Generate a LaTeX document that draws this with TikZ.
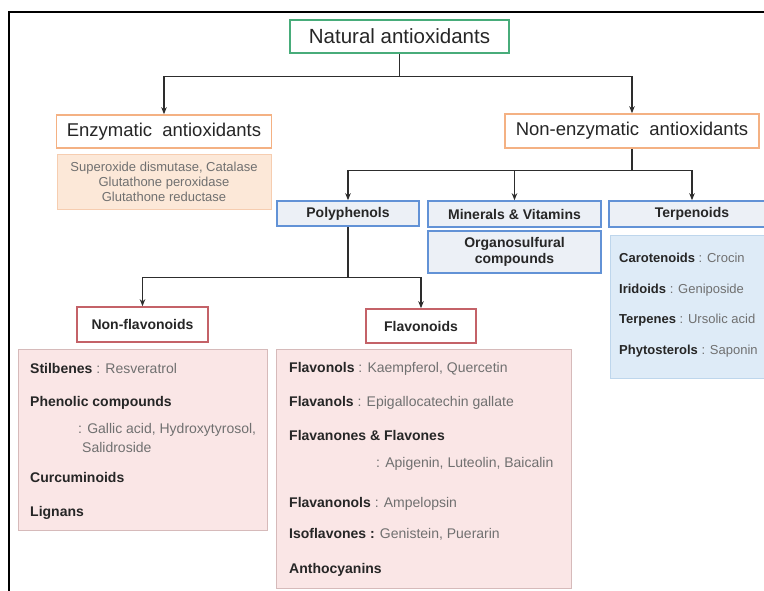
\documentclass[tikz,border=0pt]{standalone}
\usepackage{fontspec}
\setmainfont{Liberation Sans}
\usetikzlibrary{arrows.meta,calc}
\definecolor{natgreen}{RGB}{72,172,122}
\definecolor{orborder}{RGB}{244,177,131}
\definecolor{orfill}{RGB}{252,232,216}
\definecolor{orfillborder}{RGB}{246,205,176}
\definecolor{blborder}{RGB}{98,146,214}
\definecolor{blfill}{RGB}{236,240,246}
\definecolor{tpfill}{RGB}{222,235,247}
\definecolor{tpborder}{RGB}{190,214,236}
\definecolor{rdborder}{RGB}{196,98,104}
\definecolor{rdfill}{RGB}{250,230,230}
\definecolor{rdfillborder}{RGB}{214,186,186}
\definecolor{titlecol}{RGB}{38,38,38}
\definecolor{greytxt}{RGB}{112,112,112}
\definecolor{linecol}{RGB}{45,45,45}
\begin{document}
\begin{tikzpicture}[x=1pt,y=-1pt,
  box/.style={draw, line width=1.6pt, inner sep=0pt, text=titlecol, align=center},
  detail/.style={draw, line width=0.8pt, inner sep=0pt},
  arr/.style={-{Stealth[length=7pt,width=5.5pt]}, line width=1.3pt, draw=linecol},
  ln/.style={line width=1.3pt, draw=linecol},
  item/.style={anchor=base west, inner sep=0pt, text=titlecol, font=\fontsize{14}{16}\selectfont},
  titem/.style={anchor=base west, inner sep=0pt, text=titlecol, font=\fontsize{13}{15}\selectfont},
  bf14/.style={font=\fontsize{14}{16}\selectfont\bfseries}
]
\clip (0,0) rectangle (764,590);
\fill[white] (0,0) rectangle (764,590);
% frame
\draw[line width=2pt, black] (9,592) -- (9,12) -- (766,12);

% level 1
\node[box, draw=natgreen, minimum width=219pt, minimum height=33pt,
      font=\fontsize{20.5}{24}\selectfont] (nat) at (399.5,36.5) {Natural antioxidants};

% level 2
\node[box, draw=orborder, minimum width=215pt, minimum height=33pt,
      font=\fontsize{18.5}{22}\selectfont] (enz) at (164,131.5) {Enzymatic\ \ antioxidants};
\node[detail, draw=orfillborder, fill=orfill, minimum width=214pt, minimum height=55pt,
      text=greytxt, align=center, font=\fontsize{13}{15}\selectfont] (enzd) at (164,181.5)
      {Superoxide dismutase, Catalase\\Glutathone peroxidase\\Glutathone reductase};
\node[box, draw=orborder, minimum width=254pt, minimum height=34pt,
      font=\fontsize{18.5}{22}\selectfont] (nonenz) at (632,131) {Non-enzymatic\ \ antioxidants};

% level 3
\node[box, draw=blborder, fill=blfill, minimum width=142pt, minimum height=25pt, bf14] (poly) at (348,213.5) {Polyphenols};
\node[box, draw=blborder, fill=blfill, minimum width=173pt, minimum height=26pt, bf14] (minv) at (514.5,214) {Minerals \& Vitamins};
\node[box, draw=blborder, fill=blfill, minimum width=173pt, minimum height=42pt,
      font=\fontsize{14}{15.5}\selectfont\bfseries] (orgs) at (514.5,252) {Organosulfural\\compounds};
\node[box, draw=blborder, fill=blfill, minimum width=166pt, minimum height=26pt, bf14] (terp) at (692,214) {Terpenoids};
\node[detail, draw=tpborder, fill=tpfill, minimum width=165pt, minimum height=143pt] (terpd) at (692.5,306.5) {};

% level 4
\node[box, draw=rdborder, fill=white, minimum width=131pt, minimum height=35pt, bf14] (nonflav) at (142.5,324.5) {Non-flavonoids};
\node[box, draw=rdborder, fill=white, minimum width=110pt, minimum height=34pt, bf14] (flav) at (421,326) {Flavonoids};
\node[detail, draw=rdfillborder, fill=rdfill, minimum width=249pt, minimum height=181pt] (nonflavd) at (142.5,439.5) {};
\node[detail, draw=rdfillborder, fill=rdfill, minimum width=295pt, minimum height=239pt] (flavd) at (423.5,468.5) {};

% connectors
\coordinate (j1) at ($(nat.south)+(0,23)$);
\draw[ln] (nat.south) -- (j1);
\draw[arr] (j1) -| (enz.north);
\draw[arr] (j1) -| (nonenz.north);

\coordinate (j2) at ($(nonenz.south)+(0,22)$);
\draw[ln] (nonenz.south) -- (j2);
\draw[arr] (j2) -| (poly.north);
\draw[arr] (j2) -| (minv.north);
\draw[arr] (j2) -| (terp.north);

\coordinate (j3) at ($(poly.south)+(0,51)$);
\draw[ln] (poly.south) -- (j3);
\draw[arr] (j3) -| (nonflav.north);
\draw[arr] (j3) -| (flav.north);

% terpenoid items
\node[titem] (tp1) at (619,262) {\textbf{Carotenoids} {\color{greytxt}: Crocin}};
\node[titem] (tp2) at (619,293) {\textbf{Iridoids} {\color{greytxt}: Geniposide}};
\node[titem] (tp3) at (619,323) {\textbf{Terpenes} {\color{greytxt}: Ursolic acid}};
\node[titem] (tp4) at (619,354) {\textbf{Phytosterols} {\color{greytxt}: Saponin}};

% non-flavonoid items
\node[item] (nf1) at (30,373) {\textbf{Stilbenes} {\color{greytxt}: Resveratrol}};
\node[item] (nf2) at (30,406) {\textbf{Phenolic compounds}};
\node[item] (nf3) at (78,433) {\color{greytxt}: Gallic acid, Hydroxytyrosol,};
\node[item] (nf4) at (82,452) {\color{greytxt}Salidroside};
\node[item] (nf5) at (30,482) {\textbf{Curcuminoids}};
\node[item] (nf6) at (30,516) {\textbf{Lignans}};

% flavonoid items
\node[item] (fl1) at (289,372) {\textbf{Flavonols} {\color{greytxt}: Kaempferol, Quercetin}};
\node[item] (fl2) at (289,406) {\textbf{Flavanols} {\color{greytxt}: Epigallocatechin gallate}};
\node[item] (fl3) at (289,440) {\textbf{Flavanones \& Flavones}};
\node[item] (fl4) at (376,467) {\color{greytxt}: Apigenin, Luteolin, Baicalin};
\node[item] (fl5) at (289,507) {\textbf{Flavanonols} {\color{greytxt}: Ampelopsin}};
\node[item] (fl6) at (289,538) {\textbf{Isoflavones :} {\color{greytxt}Genistein, Puerarin}};
\node[item] (fl7) at (289,573) {\textbf{Anthocyanins}};
\end{tikzpicture}
\end{document}
